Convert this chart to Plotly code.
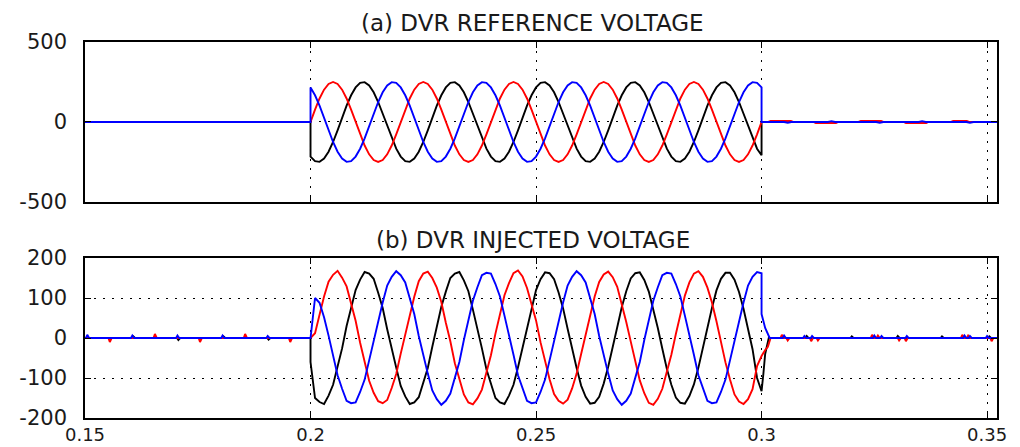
import plotly.graph_objects as go

# ---------------- data ----------------
X_RANGE = [0.15, 0.3522]
x_tickvals = [0.15, 0.2, 0.25, 0.3, 0.35]
x_ticktext = ["0.15", "0.2", "0.25", "0.3", "0.35"]
top_ytickvals = [-500, 0, 500]
top_yticktext = ["-500", "0", "500"]
bot_ytickvals = [-200, -100, 0, 100, 200]
bot_yticktext = ["-200", "-100", "0", "100", "200"]

# sag window sampled every 1 ms from 0.200 s to 0.300 s (101 samples)
t_on = [round(0.2 + 0.001 * k, 4) for k in range(101)]

# (a) reference voltage, 0.2 .. 0.3 s
ref_red = [0, 77, 147, 202, 238, 250, 238, 202, 147, 77, 0, -77, -147, -202, -238, -250, -238, -202, -147, -77,
           0, 77, 147, 202, 238, 250, 238, 202, 147, 77, 0, -77, -147, -202, -238, -250, -238, -202, -147, -77,
           0, 77, 147, 202, 238, 250, 238, 202, 147, 77, 0, -77, -147, -202, -238, -250, -238, -202, -147, -77,
           0, 77, 147, 202, 238, 250, 238, 202, 147, 77, 0, -77, -147, -202, -238, -250, -238, -202, -147, -77,
           0, 77, 147, 202, 238, 250, 238, 202, 147, 77, 0, -77, -147, -202, -238, -250, -238, -202, -147, -77,
           0]
ref_blue = [216, 167, 102, 26, -52, -125, -186, -228, -249, -245, -216, -167, -102, -26, 52, 125, 186, 228, 249, 245,
            216, 167, 102, 26, -52, -125, -186, -228, -249, -245, -216, -167, -102, -26, 52, 125, 186, 228, 249, 245,
            216, 167, 102, 26, -52, -125, -186, -228, -249, -245, -216, -167, -102, -26, 52, 125, 186, 228, 249, 245,
            216, 167, 102, 26, -52, -125, -186, -228, -249, -245, -216, -167, -102, -26, 52, 125, 186, 228, 249, 245,
            216, 167, 102, 26, -52, -125, -186, -228, -249, -245, -216, -167, -102, -26, 52, 125, 186, 228, 249, 245,
            216]
ref_black = [-216, -245, -249, -228, -186, -125, -52, 26, 102, 167, 216, 245, 249, 228, 186, 125, 52, -26, -102, -167,
             -216, -245, -249, -228, -186, -125, -52, 26, 102, 167, 216, 245, 249, 228, 186, 125, 52, -26, -102, -167,
             -216, -245, -249, -228, -186, -125, -52, 26, 102, 167, 216, 245, 249, 228, 186, 125, 52, -26, -102, -167,
             -216, -245, -249, -228, -186, -125, -52, 26, 102, 167, 216, 245, 249, 228, 186, 125, 52, -26, -102, -167,
             -216, -245, -249, -228, -186, -125, -52, 26, 102, 167, 216, 245, 249, 228, 186, 125, 52, -26, -102, -167,
             -208]

# (a) small residual ripple after 0.3 s
ref_red_post_t = [0.3, 0.3015, 0.302, 0.3065, 0.307, 0.3115, 0.312, 0.3165, 0.317, 0.3215, 0.322, 0.3265,
                  0.327, 0.3315, 0.332, 0.3365, 0.337, 0.342, 0.3425, 0.3455, 0.346, 0.3522]
ref_red_post_v = [0, 0, 6, 6, 0, 0, -6, -6, 0, 0, 6, 6, 0, 0, -6, -6, 0, 0, 6, 6, 0, 0]
ref_blue_post_t = [0.3, 0.305, 0.3058, 0.3066, 0.3147, 0.3155, 0.3163, 0.3254, 0.3262, 0.327,
                   0.3348, 0.3356, 0.3364, 0.3454, 0.3462, 0.347, 0.3522]
ref_blue_post_v = [0, 0, -5, 0, 0, 5, 0, 0, -5, 0, 0, 5, 0, 0, -5, 0, 0]

# (b) injected voltage, 0.2 .. 0.3 s
inj_red = [0, 12, 58, 104, 141, 158, 168, 151, 129, 85, 43, -12, -58, -107, -137, -158, -163, -155, -125, -90,
           -39, 8, 63, 103, 142, 161, 166, 150, 126, 90, 38, -8, -63, -104, -141, -161, -166, -151, -129, -86,
           -43, 11, 59, 107, 137, 162, 169, 154, 125, 87, 44, -11, -60, -103, -140, -157, -164, -154, -126, -89,
           -40, 9, 62, 104, 140, 159, 166, 152, 128, 86, 40, -9, -62, -106, -138, -162, -167, -152, -127, -87,
           -42, 10, 60, 106, 139, 161, 167, 153, 126, 89, 42, -10, -61, -104, -141, -159, -165, -153, -128, -70,
           -45]
inj_black = [-60, -150, -160, -165, -144, -117, -71, -26, 30, 74, 120, 146, 165, 161, 148, 113, 75, 22, -30, -74,
             -120, -146, -165, -161, -148, -113, -75, -22, 26, 78, 116, 150, 161, 165, 144, 117, 71, 26, -26, -78,
             -116, -150, -161, -165, -144, -117, -73, -24, 30, 74, 120, 147, 164, 162, 147, 114, 74, 23, -29, -75,
             -119, -147, -164, -162, -147, -114, -72, -25, 27, 77, 117, 149, 162, 164, 145, 116, 72, 25, -27, -77,
             -117, -149, -162, -164, -145, -116, -74, -23, 29, 75, 119, 148, 163, 163, 146, 115, 73, 24, -28, -100,
             -133]
inj_blue = [0, 100, 88, 52, 6, -42, -93, -127, -157, -163, -161, -135, -104, -56, -9, 46, 89, 131, 153, 167,
            157, 139, 100, 60, 5, -46, -89, -131, -153, -167, -157, -139, -100, -60, -5, 42, 93, 127, 157, 163,
            161, 135, 104, 56, 9, -42, -93, -127, -157, -163, -161, -135, -104, -56, -9, 46, 89, 131, 153, 167,
            157, 139, 100, 60, 5, -46, -89, -131, -153, -167, -157, -139, -100, -60, -5, 42, 93, 127, 157, 163,
            161, 135, 104, 56, 9, -42, -93, -127, -157, -163, -161, -135, -104, -56, -9, 46, 89, 131, 153, 165,
            162]

# (b) decay right after 0.3 s
inj_red_end_t = [0.3008, 0.3014, 0.302]
inj_red_end_v = [-30, -22, 0]
inj_black_end_t = [0.3004, 0.3008, 0.3016]
inj_black_end_v = [-90, -40, 0]
inj_blue_end_t = [0.3, 0.3008, 0.3018]
inj_blue_end_v = [60, 25, 0]

# (b) small switching spikes outside the sag
inj_red_pre_t = [0.1555, 0.1655, 0.1755, 0.1855, 0.1955]
inj_red_pre_a = [-10, 10, -10, 10, -10]
inj_blue_pre_t = [0.1505, 0.1605, 0.1705, 0.1805, 0.1905]
inj_blue_pre_a = [8, 6, 6, 6, 5]
inj_black_pre_t = [0.1607, 0.1707, 0.1807, 0.1907]
inj_black_pre_a = [4, -5, 4, -4]

inj_red_post_t = [0.3045, 0.3058, 0.311, 0.3125, 0.3245, 0.3258, 0.3305, 0.332, 0.3445, 0.3458, 0.351]
inj_red_post_a = [8, -6, -8, -6, 8, 6, -6, -8, 8, 6, -8]
inj_blue_post_t = [0.305, 0.3095, 0.3112, 0.325, 0.3266, 0.3322, 0.345, 0.3462, 0.35]
inj_blue_post_a = [6, 5, 5, 6, 5, 5, 6, 5, 5]
inj_black_post_t = [0.31, 0.32, 0.3302, 0.34, 0.3505]
inj_black_post_a = [5, 4, 5, 4, 4]

# ---------------- helpers ----------------
def spike_line(times, amps, t_start, t_end):
    xs, ys = [t_start], [0]
    for t, a in zip(times, amps):
        xs += [t - 0.0003, t, t + 0.0004]
        ys += [0, a, 0]
    xs.append(t_end)
    ys.append(0)
    return xs, ys

RED, BLUE, BLACK = "#ff0000", "#0000ff", "#000000"
LW = 1.9

fig = go.Figure()

# ---- (a) reference voltage ----
fig.add_trace(go.Scatter(x=[0.15, 0.2] + t_on + [0.3, X_RANGE[1]], y=[0, 0] + ref_black + [0, 0],
                         mode="lines", line=dict(color=BLACK, width=LW), xaxis="x", yaxis="y"))
fig.add_trace(go.Scatter(x=[0.15, 0.2] + t_on + ref_red_post_t, y=[0, 0] + ref_red + ref_red_post_v,
                         mode="lines", line=dict(color=RED, width=LW), xaxis="x", yaxis="y"))
fig.add_trace(go.Scatter(x=[0.15, 0.2] + t_on + ref_blue_post_t, y=[0, 0] + ref_blue + ref_blue_post_v,
                         mode="lines", line=dict(color=BLUE, width=LW), xaxis="x", yaxis="y"))

# ---- (b) injected voltage ----
for col, pre_t, pre_a, on, end_t, end_v, post_t, post_a in [
    (BLACK, inj_black_pre_t, inj_black_pre_a, inj_black, inj_black_end_t, inj_black_end_v, inj_black_post_t, inj_black_post_a),
    (RED, inj_red_pre_t, inj_red_pre_a, inj_red, inj_red_end_t, inj_red_end_v, inj_red_post_t, inj_red_post_a),
    (BLUE, inj_blue_pre_t, inj_blue_pre_a, inj_blue, inj_blue_end_t, inj_blue_end_v, inj_blue_post_t, inj_blue_post_a),
]:
    px, py = spike_line(pre_t, pre_a, 0.15, 0.2)
    qx, qy = spike_line(post_t, post_a, end_t[-1], X_RANGE[1])
    fig.add_trace(go.Scatter(x=px + t_on + end_t + qx, y=py + on + end_v + qy,
                             mode="lines", line=dict(color=col, width=LW), xaxis="x2", yaxis="y2"))

# ---------------- layout ----------------
FONT = "DejaVu Sans"
TXT = "#1a1a1a"
tick_font = dict(family=FONT, size=21, color=TXT)

common_axis = dict(showline=True, linecolor="black", linewidth=1.6, mirror="ticks",
                   ticks="inside", ticklen=6, tickwidth=1.4, tickcolor="black",
                   showgrid=True, gridcolor="black", gridwidth=1.3, griddash="2px,7px",
                   zeroline=False, tickfont=tick_font, automargin=False)

# the page body has an 8 px margin, so the figure is sized to fill the rest of the window
fig.update_layout(
    width=1012, height=439,
    margin=dict(l=77, r=23, t=34, b=29),
    paper_bgcolor="white", plot_bgcolor="white",
    showlegend=False,
    xaxis=dict(domain=[0, 1], anchor="y", range=X_RANGE, tickvals=x_tickvals, ticktext=x_ticktext,
               showticklabels=False, **common_axis),
    yaxis=dict(domain=[0.5745, 1.0], anchor="x", range=[-500, 500], tickvals=top_ytickvals,
               ticktext=top_yticktext, ticklabelstandoff=12, **common_axis),
    xaxis2=dict(domain=[0, 1], anchor="y2", range=X_RANGE, tickvals=x_tickvals, ticktext=x_ticktext,
                ticklabelstandoff=0, **common_axis),
    yaxis2=dict(domain=[0.0, 0.4255], anchor="x2", range=[-200, 200], tickvals=bot_ytickvals,
                ticktext=bot_yticktext, ticklabelstandoff=12, **common_axis),
    annotations=[
        dict(text="(a) DVR REFERENCE VOLTAGE", xref="paper", yref="paper", x=0.491, y=1.051,
             xanchor="center", yanchor="middle", showarrow=False,
             font=dict(family=FONT, size=23, color=TXT)),
        dict(text="(b) DVR INJECTED VOLTAGE", xref="paper", yref="paper", x=0.491, y=0.4735,
             xanchor="center", yanchor="middle", showarrow=False,
             font=dict(family=FONT, size=23, color=TXT)),
    ],
)
fig.update_xaxes(tickfont=dict(family=FONT, size=18, color=TXT), selector=dict(anchor="y2"))

fig.write_html("out.html")
